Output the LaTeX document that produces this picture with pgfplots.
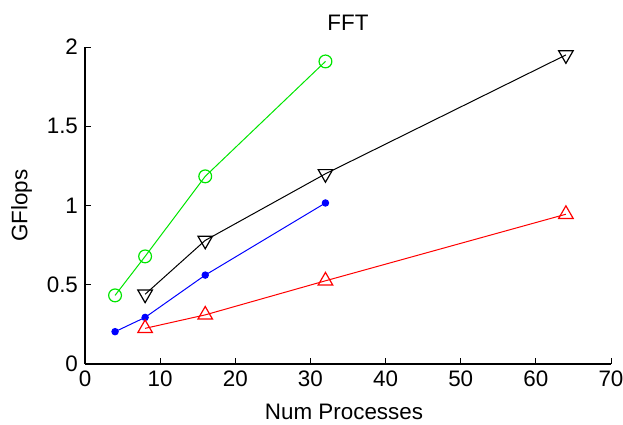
\documentclass[border=0pt]{standalone}
\usepackage{fontspec}
\setmainfont{Liberation Sans}
\usepackage{pgfplots}
\pgfplotsset{compat=1.18}
\begin{document}
\begin{tikzpicture}[font=\fontsize{11.2}{13}\selectfont]
\begin{axis}[
  scale only axis,
  width=263pt, height=158.5pt,
  xmin=0, xmax=70, ymin=0, ymax=2,
  xtick={0,10,...,70},
  ytick={0,0.5,1,1.5,2},
  yticklabels={0,0.5,1,1.5,2},
  axis lines=left,
  axis line style={-, line width=0.6pt},
  tick align=inside,
  major tick length=3pt,
  tick style={black, line width=0.5pt},
  /pgf/number format/assume math mode=true,
  title={FFT},
  title style={yshift=-1.5pt},
  xlabel={Num Processes},
  ylabel={GFlops},
  xlabel style={yshift=-1.5pt, xshift=-2pt},
  ylabel style={yshift=0.5pt},
  clip=false,
]
\addplot[color={rgb,255:red,0;green,230;blue,0}, line width=0.5pt, mark=o, mark size=3.2pt, mark options={line width=0.6pt}]
  coordinates {(4,0.433) (8,0.679) (16,1.184) (32,1.909)};
\addplot[black, line width=0.5pt, mark=triangle, mark size=4.2pt, mark options={rotate=180, line width=0.6pt}]
  coordinates {(8,0.44) (16,0.78) (32,1.20) (64,1.95)};
\addplot[blue, line width=0.5pt, mark=*, mark size=1.6pt]
  coordinates {(4,0.204) (8,0.294) (16,0.561) (32,1.016)};
\addplot[red, line width=0.5pt, mark=triangle, mark size=4.2pt, mark options={line width=0.6pt}]
  coordinates {(8,0.225) (16,0.31) (32,0.525) (64,0.945)};
\end{axis}
\pgfresetboundingbox
\path[use as bounding box] ([shift={(-42.5pt,-30.35pt)}]current axis.south west) rectangle ([shift={(6pt,23.5pt)}]current axis.north east);
\end{tikzpicture}
\end{document}
